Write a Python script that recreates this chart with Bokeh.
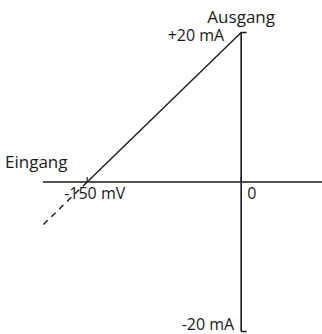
from bokeh.plotting import figure
from bokeh.models import Range1d
from bokeh.core.properties import value
from bokeh.embed import file_html
from bokeh.resources import INLINE

# Transfer characteristic: input voltage (mV) -> output current (mA)
input_mv = [-150, 0]
output_ma = [0, 20]
# extrapolated part below the zero point
ext_input_mv = [-150, -195]
ext_output_ma = [0, -6]

# axis extents
x_axis_span = [-193, 80]
y_axis_span = [-20, 20]

x_ticks = [-150, 0]
x_tick_labels = ["-150 mV", "0"]
y_ticks = [20, -20]
y_tick_labels = ["+20 mA", "-20 mA"]

x_title = "Eingang"
y_title = "Ausgang"

W, H = 322, 334
x_lo, x_hi = -234.4, 79.2
y_lo, y_hi = -20.4, 24.28

p = figure(width=W, height=H, output_backend="svg", toolbar_location=None,
           x_range=Range1d(x_lo, x_hi), y_range=Range1d(y_lo, y_hi),
           min_border=0, outline_line_color=None)
p.axis.visible = False
p.grid.visible = False
p.background_fill_color = "white"
p.border_fill_color = "white"

ink = "#1a1a1a"
font = value("Open Sans")

# pixel -> data conversion for short tick marks
px_x = (x_hi - x_lo) / W
px_y = (y_hi - y_lo) / H

# axes
p.line(x_axis_span, [0, 0], line_color=ink, line_width=1.6)
p.line([0, 0], y_axis_span, line_color=ink, line_width=1.6)

# end ticks on the output axis
tick_len = 5.5 * px_x
p.segment(x0=[0] * len(y_ticks), y0=y_ticks,
          x1=[tick_len] * len(y_ticks), y1=y_ticks,
          line_color=ink, line_width=1.6)
# small ticks on the input axis
p.segment(x0=x_ticks, y0=[0] * len(x_ticks),
          x1=x_ticks, y1=[5 * px_y] * len(x_ticks),
          line_color=ink, line_width=1.2)

# characteristic
p.line(input_mv, output_ma, line_color=ink, line_width=1.4)
p.line(ext_input_mv, ext_output_ma, line_color=ink, line_width=1.4,
       line_dash="6 5")

# tick labels
p.text(x=[x_ticks[0]], y=[0], text=[x_tick_labels[0]], text_font=font,
       text_font_size="16px", text_color=ink, text_align="left",
       text_baseline="middle", x_offset=-23, y_offset=11)
p.text(x=[x_ticks[1]], y=[0], text=[x_tick_labels[1]], text_font=font,
       text_font_size="16px", text_color=ink, text_align="left",
       text_baseline="middle", x_offset=6, y_offset=11)
p.text(x=[0], y=[y_ticks[0]], text=[y_tick_labels[0]], text_font=font,
       text_font_size="16px", text_color=ink, text_align="right",
       text_baseline="middle", x_offset=-17, y_offset=3)
p.text(x=[0], y=[y_ticks[1]], text=[y_tick_labels[1]], text_font=font,
       text_font_size="16px", text_color=ink, text_align="right",
       text_baseline="middle", x_offset=-7, y_offset=-8)

# axis titles
p.text(x=[x_axis_span[0]], y=[0], text=[x_title], text_font=font,
       text_font_size="17px", text_color=ink, text_align="left",
       text_baseline="middle", x_offset=-38, y_offset=-21)
p.text(x=[0], y=[y_axis_span[1]], text=[y_title], text_font=font,
       text_font_size="17px", text_color=ink, text_align="center",
       text_baseline="middle", x_offset=0, y_offset=-16)

open("out.html", "w").write(file_html(p, INLINE))
